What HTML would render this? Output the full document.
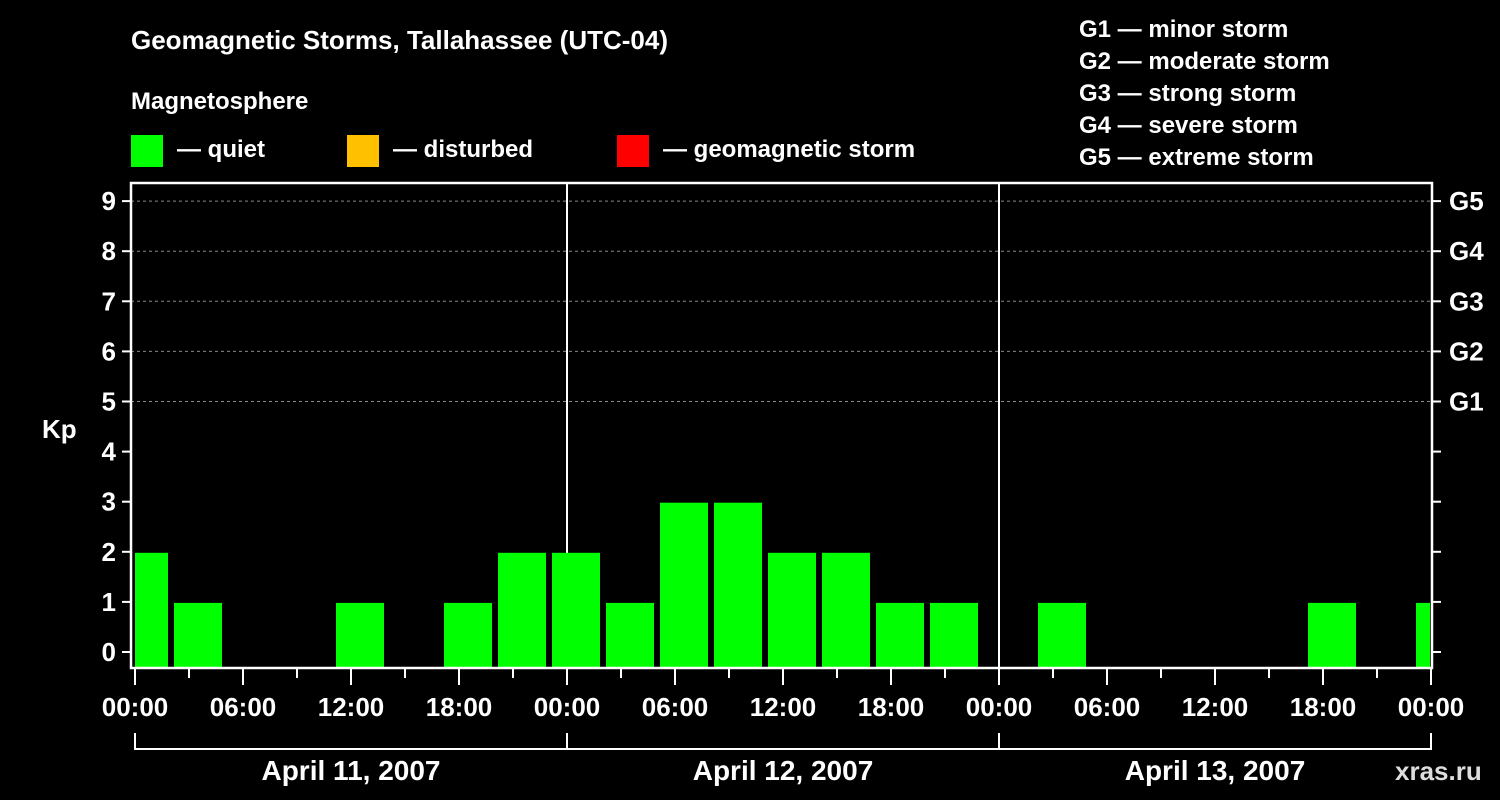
<!DOCTYPE html>
<html><head><meta charset="utf-8"><style>
body{margin:0;background:#000;}
svg{display:block;font-family:"Liberation Sans",Arial,sans-serif;font-weight:bold;}
</style></head><body>
<svg id="c" width="1500" height="800" viewBox="0 0 1500 800">
<rect width="1500" height="800" fill="#000"/>
<text x="131" y="49" fill="#fff" font-size="26">Geomagnetic Storms, Tallahassee (UTC-04)</text>
<text x="131" y="109" fill="#fff" font-size="24">Magnetosphere</text>
<g><rect x="131" y="135" width="32" height="32" fill="#00ff00"/><text x="177" y="157" fill="#fff" font-size="24">— quiet</text></g>
<g><rect x="347" y="135" width="32" height="32" fill="#ffc000"/><text x="393" y="157" fill="#fff" font-size="24">— disturbed</text></g>
<g><rect x="617" y="135" width="32" height="32" fill="#ff0000"/><text x="663" y="157" fill="#fff" font-size="24">— geomagnetic storm</text></g>
<g fill="#fff" font-size="24">
<text x="1079" y="37">G1 — minor storm</text>
<text x="1079" y="69">G2 — moderate storm</text>
<text x="1079" y="101">G3 — strong storm</text>
<text x="1079" y="133">G4 — severe storm</text>
<text x="1079" y="165">G5 — extreme storm</text>
</g>
<text x="42" y="438" fill="#fff" font-size="26">Kp</text>
<text x="1395" y="780" fill="#ddd" font-size="26">xras.ru</text>
<g id="grid"></g><g id="bars"></g><g id="axes"></g>
</svg>
<script>
const kpValues=[2,1,0,0,1,0,1,2,2,1,3,3,2,2,1,1,0,1,0,0,0,0,1,0,1];
const startHour=-1;
const intervalHours=3;
const days=["April 11, 2007","April 12, 2007","April 13, 2007"];
const yTicks=[0,1,2,3,4,5,6,7,8,9];
const gLabels=["G1","G2","G3","G4","G5"];
const gLevels=[5,6,7,8,9];
const xLabels=["00:00","06:00","12:00","18:00"];

const NS="http://www.w3.org/2000/svg";
const L=131,R=1432,T=183,B=668,X0=135,DAY=432;
const xs=h=>X0+h*DAY/24;
const ys=k=>652-k*50.1;
function mk(p,tag,a){const e=document.createElementNS(NS,tag);for(const k in a)e.setAttribute(k,a[k]);p.appendChild(e);return e;}
const grid=document.getElementById('grid'),bars=document.getElementById('bars'),axes=document.getElementById('axes');
gLevels.forEach(k=>{const l=mk(grid,'line',{x1:L,x2:R,y1:ys(k),y2:ys(k),stroke:'#888','stroke-dasharray':'3,3'});

});
for(let d=1;d<days.length;d++){const l=mk(grid,'line',{x1:xs(24*d),x2:xs(24*d),y1:T,y2:B,stroke:'#fff','stroke-width':2});

}
kpValues.forEach((v,i)=>{if(v<=0)return;
let a=xs(startHour+i*intervalHours)+3,b=xs(startHour+(i+1)*intervalHours)-3;
a=Math.max(a,L+4);b=Math.min(b,R-2);
const y=ys(v)+1;
const r=mk(bars,'rect',{x:a,y:y,width:b-a,height:B-1-y,fill:v>=5?'#ff0000':(v>=4?'#ffc000':'#00ff00')});

});
const f=mk(axes,'rect',{x:L,y:T,width:R-L,height:B-T,fill:'none',stroke:'#fff','stroke-width':2.5});


yTicks.forEach(k=>{mk(axes,'line',{x1:122,x2:L,y1:ys(k),y2:ys(k),stroke:'#fff','stroke-width':2});
mk(axes,'line',{x1:R,x2:R+9,y1:ys(k),y2:ys(k),stroke:'#fff','stroke-width':2});
const t=mk(axes,'text',{x:116,y:ys(k)+9,fill:'#fff','font-size':26,'text-anchor':'end'});t.textContent=k;

});
gLevels.forEach((k,i)=>{const t=mk(axes,'text',{x:1449,y:ys(k)+9,fill:'#fff','font-size':26});t.textContent=gLabels[i];

});
const nH=24*days.length;
for(let h=0;h<=nH;h+=3){const big=h%6==0;
mk(axes,'line',{x1:xs(h),x2:xs(h),y1:B,y2:big?685:678,stroke:'#fff','stroke-width':2});
if(big){const t=mk(axes,'text',{x:xs(h),y:716,fill:'#fff','font-size':26,'text-anchor':'middle'});t.textContent=xLabels[(h%24)/6];

}}
mk(axes,'line',{x1:xs(0),x2:xs(nH),y1:749,y2:749,stroke:'#fff','stroke-width':2});
for(let d=0;d<=days.length;d++)mk(axes,'line',{x1:xs(24*d),x2:xs(24*d),y1:733,y2:750,stroke:'#fff','stroke-width':2});
days.forEach((s,d)=>{const t=mk(axes,'text',{x:xs(24*d+12),y:780,fill:'#fff','font-size':28,'text-anchor':'middle'});t.textContent=s;

});
</script>
</body></html>
